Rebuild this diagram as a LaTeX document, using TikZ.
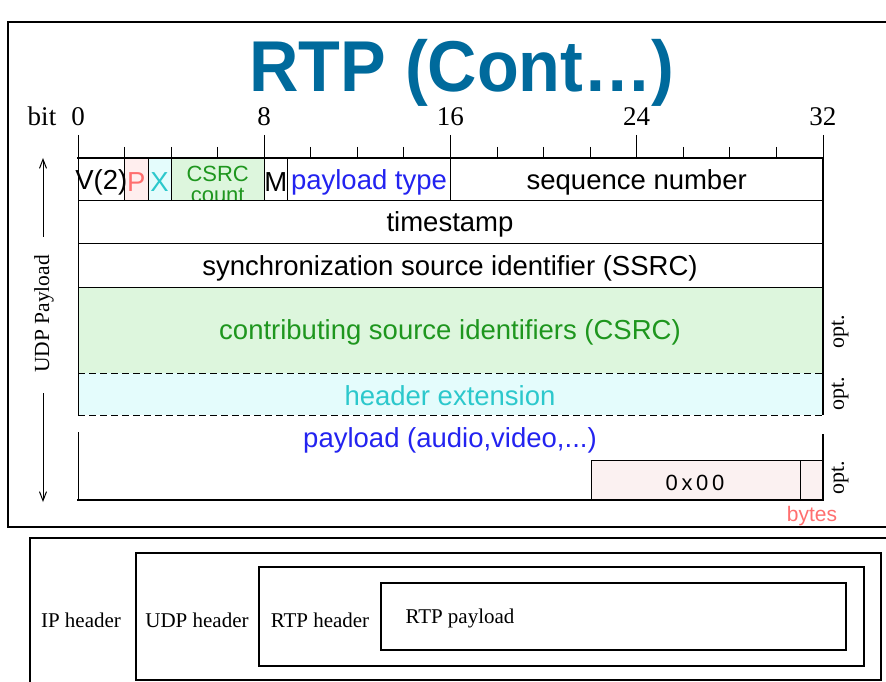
\documentclass[tikz,border=0pt]{standalone}
\usepackage{fontspec}
\setmainfont{Liberation Serif}
\setsansfont{Liberation Sans}
\usetikzlibrary{arrows.meta}
\definecolor{titleblue}{HTML}{006A9C}
\definecolor{pinktext}{HTML}{FF6E6E}
\definecolor{pinkfill}{HTML}{FFEEEE}
\definecolor{cyantext}{HTML}{2CC8CC}
\definecolor{cyanfill}{HTML}{E4FCFC}
\definecolor{greentext}{HTML}{1E961E}
\definecolor{greenfill}{HTML}{DDF6DD}
\definecolor{bluetext}{HTML}{2323F0}
\definecolor{padfill}{HTML}{FBF1F1}
\def\bw{23.28}
\tikzstyle{field}=[font=\sffamily\fontsize{27.5}{27.5}\selectfont,inner sep=0pt]
\tikzstyle{smallfield}=[font=\sffamily\fontsize{22}{21}\selectfont,inner sep=0pt,align=center]
\tikzstyle{bitnum}=[font=\fontsize{27}{27}\selectfont,inner sep=0pt]
\tikzstyle{optlabel}=[font=\fontsize{22}{22}\selectfont,rotate=90,inner sep=0pt]
\tikzstyle{layer}=[font=\fontsize{21}{21}\selectfont,inner sep=0pt]
\tikzstyle{barb}=[-{Straight Barb[length=9pt,width=7pt]},line width=1pt]

\begin{document}
\begin{tikzpicture}[x=1pt,y=-1pt]
\useasboundingbox (0,0) rectangle (886,682);
\clip (0,0) rectangle (886,682);

% frames
\draw[line width=2pt] (8,22) rectangle (900,527);
\draw[line width=1.4pt] (30,538) rectangle (900,700);

\node[font=\sffamily\bfseries\fontsize{72}{72}\selectfont,text=titleblue,xscale=0.95,anchor=base] (title) at (462,92) {RTP (Cont\dots)};

% bit ruler
\node[bitnum,anchor=base] (bit) at (42,126) {bit};
\foreach \b in {0,8,16,24,32} {
  \node[bitnum,anchor=base] (n\b) at ({78+\b*\bw},126) {\b};
  \draw[line width=0.9pt] ({78+\b*\bw},135) -- ({78+\b*\bw},158);
}
\foreach \b in {2,4,...,30}
  \draw[line width=0.9pt] ({78+\b*\bw},147) -- ({78+\b*\bw},158);

% fills
\fill[pinkfill] ({78+2*\bw},158) rectangle ({78+3*\bw},200);
\fill[cyanfill] ({78+3*\bw},158) rectangle ({78+4*\bw},200);
\fill[greenfill] ({78+4*\bw},158) rectangle ({78+8*\bw},200);
\fill[greenfill] (78,287) rectangle (823,373);
\fill[cyanfill] (78,373) rectangle (823,415);
\fill[padfill] (591,460) rectangle (823,500);

% first row
\foreach \b in {2,3,4,8,9,16}
  \draw ({78+\b*\bw},158) -- ({78+\b*\bw},200);
\node[field] (ver) at ({78+1*\bw},182) {V(2)};
\node[field,text=pinktext] (pad) at ({78+2.5*\bw},182) {P};
\node[field,text=cyantext] (ext) at ({78+3.5*\bw},182) {X};
\begin{scope}
  \clip ({78+4*\bw},158) rectangle ({78+8*\bw},200);
  \node[smallfield,text=greentext] (cc) at ({78+6*\bw},184) {CSRC\\count};
\end{scope}
\node[field] (mark) at ({78+8.5*\bw},182) {M};
\node[field,text=bluetext] (pt) at ({78+12.5*\bw},182) {payload type};
\node[field] (seq) at ({78+24*\bw},182) {sequence number};

% header rows
\draw (78,200) -- (823,200);
\draw (78,243) -- (823,243);
\draw (78,287) -- (823,287);
\draw[dashed,line width=0.9pt,dash pattern=on 7pt off 4pt] (78,373) -- (823,373);
\draw[dashed,line width=0.9pt,dash pattern=on 7pt off 4pt] (78,415) -- (823,415);
\draw (78,158) -- (78,415);
\draw[line width=2pt] (77,158) -- (824,158);
\draw[line width=2pt] (823,157) -- (823,415);
\node[field] (ts) at (450,224) {timestamp};
\node[field] (ssrc) at (450,268) {synchronization source identifier (SSRC)};
\node[field,text=greentext] (csrc) at (450,332) {contributing source identifiers (CSRC)};
\node[field,text=cyantext] (hext) at (450,396) {header extension};

% payload
\draw (78,432) -- (78,500);
\draw[line width=2pt] (77,500) -- (824,500);
\draw[line width=2pt] (823,434) -- (823,501);
\draw (591,500) -- (591,460) -- (823,460);
\draw (800,460) -- (800,500);
\node[field,text=bluetext] (pl) at (450,440) {payload (audio,video,...)};
\node[field,font=\sffamily\fontsize{22}{22}\selectfont] (zero) at (695,483) {0\,x\,0\,0};
\node[field,font=\sffamily\fontsize{21}{21}\selectfont,text=pinktext] (bytes) at (812,516) {bytes};

\node[optlabel] (opt1) at (840,332) {opt.};
\node[optlabel] (opt2) at (840,394) {opt.};
\node[optlabel] (opt3) at (840,478) {opt.};

% udp payload arrow
\node[optlabel,font=\fontsize{21.5}{21.5}\selectfont] (udp) at (44,314) {UDP Payload};
\coordinate (udptop) at (43,158);
\coordinate (udpbot) at (43,502);
\draw[barb] ([xshift=-1pt,yshift=18pt]udp.east) -- (udptop);
\draw[barb] ([xshift=-1pt,yshift=-20pt]udp.west) -- (udpbot);

% encapsulation
\draw[line width=1.2pt] (136,553) rectangle (881,680);
\draw[line width=1.2pt] (259,567) rectangle (864,666);
\draw[line width=1.2pt] (381,583) rectangle (846,650);
\node[layer] (ip) at (81,620) {IP header};
\node[layer] (udph) at (197,620) {UDP header};
\node[layer] (rtph) at (320,620) {RTP header};
\node[layer] (rtpp) at (460,618) {RTP payload};
\end{tikzpicture}
\end{document}
